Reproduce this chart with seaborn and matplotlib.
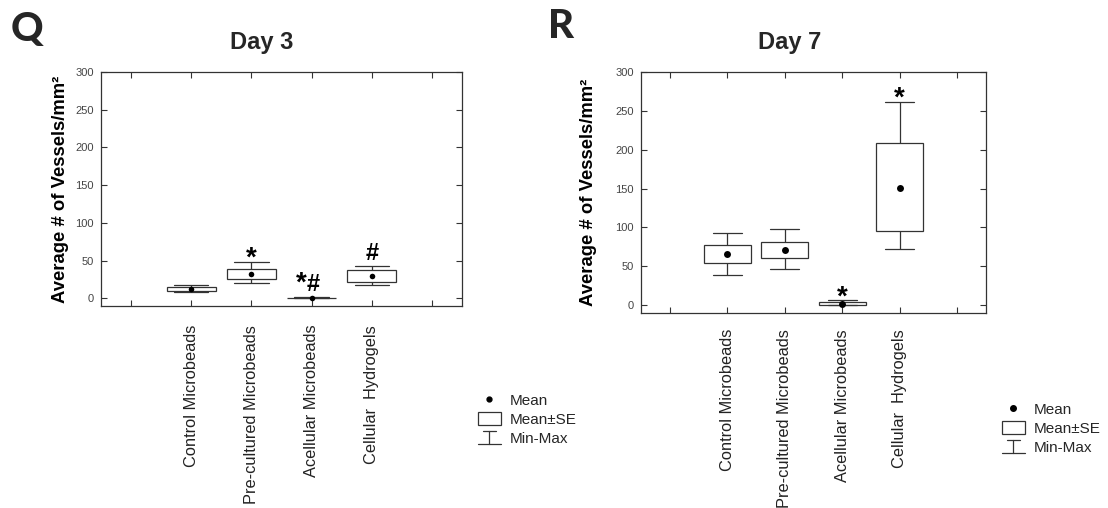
import numpy as np
import pandas as pd
import matplotlib
matplotlib.use("Agg")
import matplotlib.pyplot as plt
import seaborn as sns
from matplotlib.lines import Line2D
from matplotlib.patches import Rectangle
from matplotlib.legend_handler import HandlerBase

# ---------------- data ----------------
categories = ["Control Microbeads", "Pre-cultured Microbeads",
              "Acellular Microbeads", "Cellular  Hydrogels"]

# Day 3
mean3 = [12.8, 32.7, 0.5, 30.1]
se_lo3 = [10.2, 26.1, 0.1, 22.1]
se_hi3 = [15.5, 38.9, 1.0, 37.2]
min3 = [8.8, 20.8, 0.0, 17.7]
max3 = [17.7, 47.8, 1.3, 42.5]

# Day 7
mean7 = [65.3, 70.9, 1.8, 151.3]
se_lo7 = [53.7, 60.2, 0.2, 95.4]
se_hi7 = [76.9, 81.2, 4.0, 208.9]
min7 = [39.5, 46.0, 0.0, 72.2]
max7 = [92.4, 98.0, 6.5, 261.7]

# significance marks: (symbol, category position, y value of glyph centre)
marks3 = [("*", 1.0, 64), ("*", 1.83, 31), ("#", 2.03, 20.5), ("#", 3.0, 62)]
marks7 = [("*", 2.0, 20), ("*", 3.0, 276)]

yticks = [0, 50, 100, 150, 200, 250, 300]
legend_labels = ["Mean", "Mean\u00b1SE", "Min-Max"]

# ---------------- styling ----------------
sns.set_style("ticks")
plt.rcParams["font.family"] = ["Liberation Sans", "DejaVu Sans"]

W, H = 1108, 508
fig = plt.figure(figsize=(W / 100, H / 100), dpi=100)

LC = "#333333"
SYM_SIZE = {"*": 20, "#": 17}
SYM_OFF = {"*": -0.55, "#": -0.35}   # glyph centre above baseline, in em


def long_frame(mins, lo, mean, hi, maxs):
    rows = []
    for c, a, b, m, d, e in zip(categories, mins, lo, mean, hi, maxs):
        for v in (a, b, m, d, e):
            rows.append({"group": c, "value": v})
    return pd.DataFrame(rows)


def draw_panel(ax, mins, lo, mean, hi, maxs, marks, capw, pad, msize):
    df = long_frame(mins, lo, mean, hi, maxs)
    sns.boxplot(data=df, x="group", y="value", order=categories, ax=ax,
                width=0.81, whis=(0, 100), showfliers=False,
                color="white", linecolor=LC, linewidth=0.9, saturation=1,
                medianprops={"visible": False}, capwidths=capw)
    sns.stripplot(x=categories, y=mean, order=categories, ax=ax, jitter=False,
                  color="black", size=msize, zorder=5)
    for sym, xpos, yv in marks:
        fs = SYM_SIZE[sym]
        ax.annotate(sym, (xpos, yv), xytext=(0, SYM_OFF[sym] * fs),
                    textcoords="offset points", ha="center", va="baseline",
                    fontsize=fs, fontweight="bold", color="black")
    ax.set_xlim(-1.5, 4.5)
    ax.set_ylim(-10, 300)
    ax.set_xticks(np.arange(-1, 5))
    ax.set_xticklabels([""] + categories + [""], rotation=90, ha="center",
                       va="top", fontsize=11.8, color="#222222")
    ax.set_yticks(yticks)
    ax.set_yticklabels([str(t) for t in yticks], fontsize=8, color="#444444")
    ax.tick_params(axis="both", direction="in", top=True, right=True,
                   length=4, width=0.8, color=LC)
    ax.tick_params(axis="x", pad=pad)
    ax.tick_params(axis="y", pad=5)
    for s in ax.spines.values():
        s.set_visible(True)
        s.set_color(LC)
        s.set_linewidth(0.9)
    ax.set_xlabel("")
    ax.set_ylabel("Average # of Vessels/mm\u00b2", fontsize=13.3,
                  fontweight="bold", color="black")


axQ = fig.add_axes([101 / W, 1 - 306 / H, 361 / W, 234 / H])
axR = fig.add_axes([641 / W, 1 - 313 / H, 345 / W, 241 / H])

draw_panel(axQ, min3, se_lo3, mean3, se_hi3, max3, marks3, 0.57, 13.5, 4)
draw_panel(axR, min7, se_lo7, mean7, se_hi7, max7, marks7, 0.5, 11.5, 5)
axQ.yaxis.set_label_coords(-0.088, 0.5)
axR.yaxis.set_label_coords(-0.128, 0.5)

fig.text(262 / W, 1 - 42 / H, "Day 3", ha="center", va="center",
         fontsize=17, fontweight="bold")
fig.text(790 / W, 1 - 42 / H, "Day 7", ha="center", va="center",
         fontsize=17, fontweight="bold")
fig.text(27 / W, 1 - 29 / H, "Q", ha="center", va="center", fontsize=29,
         fontweight="black", family=["Lato", "DejaVu Sans"])
fig.text(561 / W, 1 - 27 / H, "R", ha="center", va="center", fontsize=29,
         fontweight="black", family=["Lato", "DejaVu Sans"])


class MinMaxHandle:
    pass


class HandlerMinMax(HandlerBase):
    def create_artists(self, legend, orig_handle, xdescent, ydescent,
                       width, height, fontsize, trans):
        x0, x1 = -xdescent, -xdescent + width
        y0, y1 = -ydescent, -ydescent + height
        xm = (x0 + x1) / 2
        cap = width * 0.3
        arts = [Line2D([xm - cap, xm + cap], [y1, y1]),
                Line2D([xm, xm], [y0, y1]),
                Line2D([x0, x1], [y0, y0])]
        for a in arts:
            a.set_color(LC)
            a.set_linewidth(0.9)
            a.set_transform(trans)
        return arts


def make_legend(x, y, msize):
    handles = [Line2D([], [], marker="o", ls="none", color="black",
                      markersize=msize),
               Rectangle((0, 0), 1, 1, facecolor="white", edgecolor=LC,
                         linewidth=0.9),
               MinMaxHandle()]
    fig.legend(handles, legend_labels, loc="upper left",
               bbox_to_anchor=(x / W, 1 - y / H), frameon=False,
               borderaxespad=0, borderpad=0, fontsize=11,
               handlelength=1.5, handleheight=0.9, handletextpad=0.6,
               labelspacing=0.3,
               handler_map={MinMaxHandle: HandlerMinMax()})


make_legend(478, 393, 3.5)
make_legend(1002, 402, 4)

fig.savefig("out.png", dpi=100)
